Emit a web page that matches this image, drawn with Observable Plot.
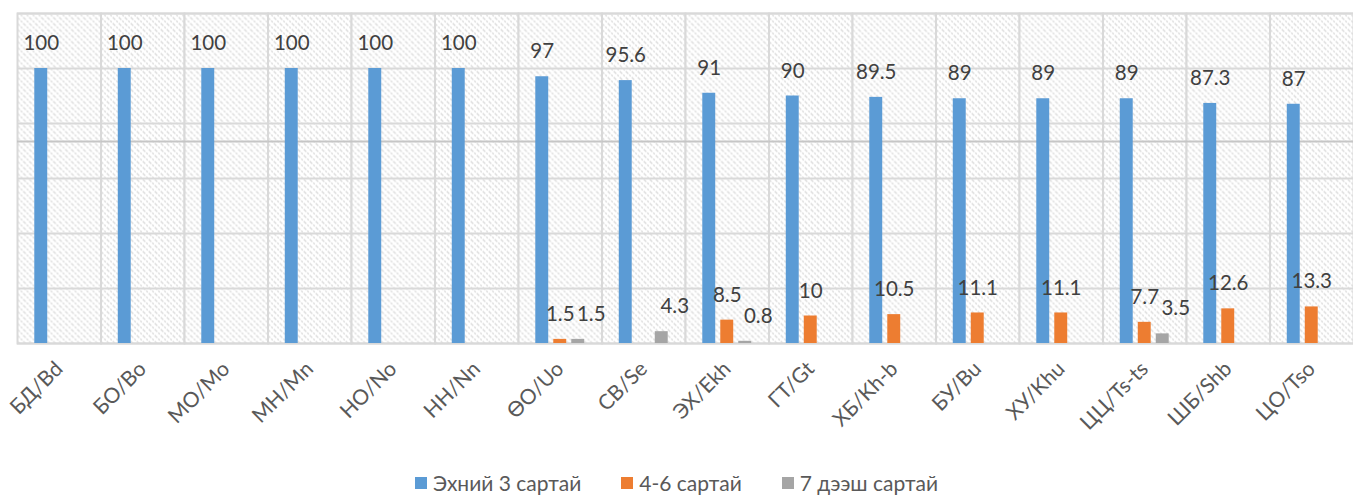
<!DOCTYPE html>
<html>
<head>
<meta charset="utf-8">
<script src="https://cdn.jsdelivr.net/npm/d3@7"></script>
<script src="https://cdn.jsdelivr.net/npm/@observablehq/plot@0.6"></script>
<style>
  html, body { margin: 0; padding: 0; background: #fff; }
  #chart { width: 1353px; }
  .legend { display: flex; justify-content: center; gap: 40px; font-family: Lato, "Open Sans", sans-serif; font-size: 21px; color: #595959; line-height: 24px; height: 25px; }
  .legend span.item { display: flex; align-items: center; }
  .legend i { display: inline-block; width: 12px; height: 12px; margin-right: 6px; }
</style>
</head>
<body>
<div id="chart"></div>
<script>
const categories = ["БД/Bd","БО/Bo","МО/Mo","МН/Mn","НО/No","НН/Nn","ӨО/Uo","СВ/Se","ЭХ/Ekh","ГТ/Gt","ХБ/Kh-b","БУ/Bu","ХУ/Khu","ЦЦ/Ts-ts","ШБ/Shb","ЦО/Tso"];
const seriesNames = ["Эхний 3 сартай", "4-6 сартай", "7 дээш сартай"];
const first3 = [100,100,100,100,100,100,97,95.6,91,90,89.5,89,89,89,87.3,87];
const months4to6 = [null,null,null,null,null,null,1.5,null,8.5,10,10.5,11.1,11.1,7.7,12.6,13.3];
const months7plus = [null,null,null,null,null,null,1.5,4.3,0.8,null,null,null,null,3.5,null,null];
const yTicks = [0,20,40,60,80,100,120];
const extraRule = [73.5];
const colors = ["#5B9BD5", "#ED7D31", "#A5A5A5"];

const seriesValues = [first3, months4to6, months7plus];
const data = [];
categories.forEach((c, i) => {
  seriesNames.forEach((s, j) => {
    const v = seriesValues[j][i];
    if (v != null) data.push({category: c, series: s, value: v});
  });
});

const labelFont = "Lato, 'Open Sans', sans-serif";

const chart = Plot.plot({
  width: 1353,
  height: 470,
  marginTop: 13,
  marginBottom: 127,
  marginLeft: 17,
  marginRight: 0,
  style: {fontFamily: labelFont, background: "#fff"},
  fx: {domain: categories, padding: 0, label: null, round: false},
  x: {domain: seriesNames, paddingInner: 0.28, paddingOuter: 0.96, axis: null, round: false},
  y: {domain: [0, 120], axis: null},
  color: {domain: seriesNames, range: colors},
  marks: [
    Plot.frame({fill: "url(#hatch)", stroke: "#d9d9d9", strokeWidth: 2}),
    Plot.gridY(yTicks, {stroke: "#d9d9d9", strokeOpacity: 1, strokeWidth: 2}),
    Plot.ruleY(extraRule, {stroke: "#c6c6c6", strokeWidth: 2}),
    Plot.barY(data, {fx: "category", x: "series", y: "value", fill: "series"}),
    Plot.text(data.filter(d => d.series !== seriesNames[2]), {fx: "category", x: "series", y: "value", text: d => String(d.value), dy: -25, fill: "#404040", fontSize: 20.5, fontFamily: labelFont}),
    Plot.text(data.filter(d => d.series === seriesNames[2]), {fx: "category", x: "series", y: "value", text: d => String(d.value), dy: -25, dx: 13, fill: "#404040", fontSize: 20.5, fontFamily: labelFont}),
    Plot.axisFx({anchor: "bottom", tickRotate: -45, tickSize: 0, tickPadding: 22, fontSize: 21, fill: "#595959", label: null, fontFamily: labelFont})
  ]
});

// hatched background pattern
const ns = "http://www.w3.org/2000/svg";
const defs = document.createElementNS(ns, "defs");
defs.innerHTML = `<pattern id="hatch" patternUnits="userSpaceOnUse" width="6" height="6">
  <rect width="6" height="6" fill="#ffffff"/>
  <path d="M0,0 L6,6 M-3,3 L3,9 M3,-3 L9,3" stroke="#dadada" stroke-width="1.3" stroke-dasharray="2,1.3"/>
</pattern>`;
chart.insertBefore(defs, chart.firstChild);

document.getElementById("chart").appendChild(chart);

const legend = document.createElement("div");
legend.className = "legend";
seriesNames.forEach((s, i) => {
  const item = document.createElement("span");
  item.className = "item";
  const sw = document.createElement("i");
  sw.style.background = colors[i];
  item.appendChild(sw);
  item.appendChild(document.createTextNode(s));
  legend.appendChild(item);
});
document.getElementById("chart").appendChild(legend);
</script>
</body>
</html>
